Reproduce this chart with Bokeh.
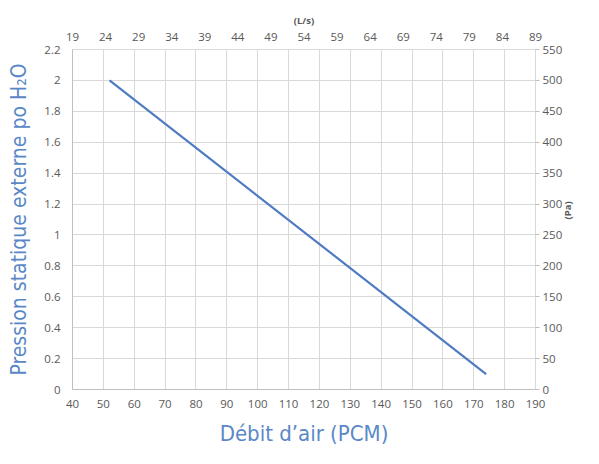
import math
from bokeh.plotting import figure
from bokeh.models import Range1d, LinearAxis, FixedTicker
from bokeh.embed import file_html
from bokeh.resources import INLINE

# data
flow_cfm = [52, 174]
pressure_inh2o = [2.0, 0.1]
x_ticks = list(range(40, 191, 10))
y_ticks = [round(0.2 * i, 1) for i in range(12)]
top_ticks = list(range(19, 90, 5))
right_ticks = list(range(0, 551, 50))

BLUE_LINE = "#4f7bc3"
BLUE_LABEL = "#5a88c6"
GRAY_TXT = "#595959"
GRID = "#d9d9d9"
AXIS = "#bfbfbf"
TICK_FONT = "Open Sans"
LABEL_FONT = "'DejaVu Sans Condensed', Roboto"

p = figure(width=583, height=448, output_backend="svg", toolbar_location=None,
           x_range=Range1d(40, 190), y_range=Range1d(0, 2.2),
           min_border_left=72, min_border_right=37, min_border_top=49, min_border_bottom=58)
p.extra_x_ranges = {"ls": Range1d(19, 89)}
p.extra_y_ranges = {"pa": Range1d(0, 550)}

bottom = p.below[0]
left = p.left[0]

p.line(flow_cfm, pressure_inh2o, line_color=BLUE_LINE, line_width=2.2)

p.outline_line_color = GRID
p.xgrid.grid_line_color = GRID
p.ygrid.grid_line_color = GRID
p.xgrid.ticker = FixedTicker(ticks=x_ticks)
p.ygrid.ticker = FixedTicker(ticks=y_ticks)

top = LinearAxis(x_range_name="ls", ticker=FixedTicker(ticks=top_ticks), axis_label="(L/s)")
right = LinearAxis(y_range_name="pa", ticker=FixedTicker(ticks=right_ticks), axis_label="(Pa)")
p.add_layout(top, "above")
p.add_layout(right, "right")

bottom.ticker = FixedTicker(ticks=x_ticks)
left.ticker = FixedTicker(ticks=y_ticks)
bottom.axis_label = "Débit d\u2019air (PCM)"
left.axis_label = "Pression statique externe po H\u2082O"

for ax in [bottom, left, top, right]:
    ax.axis_line_color = AXIS
    ax.major_tick_in = 0
    ax.major_tick_out = 0
    ax.minor_tick_line_color = None
    ax.major_label_text_font = TICK_FONT
    ax.major_label_text_font_size = "11.5px"
    ax.major_label_text_color = GRAY_TXT

bottom.major_label_standoff = 10
left.major_label_standoff = 12
top.major_label_standoff = 9
right.major_label_standoff = 3
right.major_tick_out = 4
right.major_tick_line_color = AXIS
top.axis_line_color = GRID
right.axis_line_color = GRID

for ax in [bottom, left]:
    ax.axis_label_text_font = LABEL_FONT
    ax.axis_label_text_font_size = "22px"
    ax.axis_label_text_font_style = "normal"
    ax.axis_label_text_color = BLUE_LABEL
left.axis_label_text_font_size = "21px"

bottom.axis_label_standoff = 10
left.axis_label_standoff = 10

for ax in [top, right]:
    ax.axis_label_text_font = TICK_FONT
    ax.axis_label_text_font_size = "9.5px"
    ax.axis_label_text_font_style = "bold"
    ax.axis_label_text_color = GRAY_TXT
    ax.axis_label_standoff = 3
right.axis_label_standoff = 2
right.axis_label_orientation = math.pi / 2

open("out.html", "w").write(file_html(p, INLINE))
